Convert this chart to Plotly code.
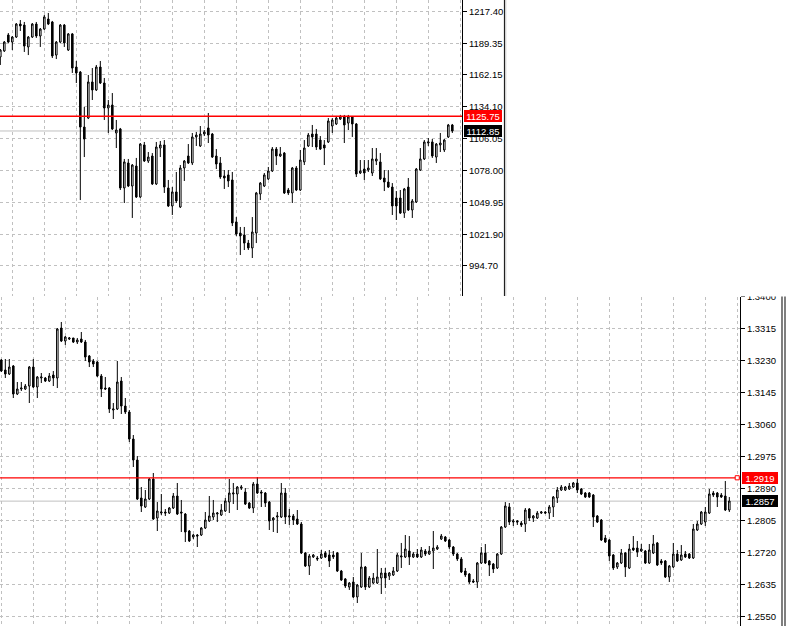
import plotly.graph_objects as go

# ---------------- upper chart (index) ----------------
top_open = [1177.7,1183.0,1197.0,1190.8,1195.2,1206.6,1205.7,1186.5,1195.2,1206.6,
            1196.1,1202.2,1211.0,1208.4,1179.4,1190.8,1205.7,1183.8,1197.9,1168.9,
            1164.5,1116.3,1124.2,1155.8,1148.8,1168.9,1154.9,1133.0,1135.6,1111.1,
            1114.6,1062.9,1084.8,1064.6,1082.1,1055.0,1100.6,1086.5,1090.9,1066.4,
            1097.9,1100.6,1062.9,1047.1,1059.4,1046.2,1080.4,1090.9,1084.8,1107.6,
            1099.7,1110.2,1115.5,1110.2,1090.9,1084.8,1073.4,1074.3,1069.9,1033.1,
            1023.4,1021.7,1014.6,1010.3,1023.4,1057.6,1064.6,1070.8,1077.8,1097.0,
            1090.9,1093.5,1061.1,1058.5,1080.4,1061.1,1085.7,1099.7,1110.2,1110.2,
            1104.9,1100.6,1103.2,1117.2,1119.0,1123.3,1125.1,1119.8,1125.1,1119.0,
            1076.0,1079.5,1078.6,1076.0,1086.5,1085.7,1071.6,1068.1,1063.7,1054.1,
            1054.1,1040.9,1063.7,1043.6,1050.6,1078.6,1088.3,1102.3,1103.2,1090.0,
            1100.6,1096.2,1107.6,1118.1]
top_high = [1184.7,1191.7,1198.7,1196.1,1207.5,1210.1,1208.4,1196.1,1207.5,1208.4,
            1203.1,1214.5,1216.3,1209.3,1191.7,1206.6,1206.6,1198.7,1198.7,1174.2,
            1165.4,1133.9,1161.9,1168.0,1170.7,1174.2,1159.3,1140.0,1146.1,1122.5,
            1115.5,1088.3,1088.3,1083.9,1089.2,1102.3,1103.2,1094.4,1093.5,1103.2,
            1104.1,1104.9,1069.9,1063.7,1076.9,1083.0,1087.4,1101.4,1111.1,1112.0,
            1117.2,1113.7,1128.6,1111.1,1097.0,1090.0,1078.6,1078.6,1076.9,1037.4,
            1028.7,1028.7,1017.3,1037.4,1059.4,1068.1,1076.0,1081.3,1098.8,1098.8,
            1098.8,1094.4,1062.9,1081.3,1082.1,1096.2,1104.9,1111.1,1118.1,1114.6,
            1108.4,1104.9,1124.2,1124.2,1126.0,1126.9,1126.9,1126.9,1126.0,1119.8,
            1087.4,1087.4,1087.4,1097.9,1097.9,1093.5,1078.6,1078.6,1067.2,1060.2,
            1061.1,1062.9,1071.6,1053.2,1080.4,1097.9,1104.9,1106.7,1105.8,1102.3,
            1111.1,1105.8,1119.0,1119.0]
top_low = [1170.7,1182.1,1190.0,1183.8,1194.4,1200.5,1182.1,1179.4,1194.4,1194.4,
           1186.5,1201.4,1205.7,1176.8,1175.9,1190.0,1186.5,1183.0,1163.7,1154.9,
           1052.3,1090.0,1123.3,1140.0,1147.9,1154.0,1122.5,1111.1,1113.7,1097.9,
           1061.1,1049.7,1063.7,1036.6,1054.1,1054.1,1085.7,1084.8,1065.5,1065.5,
           1090.0,1058.5,1046.2,1039.2,1049.7,1045.3,1069.0,1083.9,1083.0,1099.7,
           1098.8,1108.4,1102.3,1089.2,1079.5,1070.8,1062.0,1063.7,1029.5,1020.8,
           1004.1,1008.5,1008.5,1001.5,1014.6,1052.3,1063.7,1069.9,1076.9,1083.0,
           1090.0,1057.6,1056.7,1049.7,1060.2,1060.2,1083.0,1098.8,1098.8,1096.2,
           1096.2,1083.0,1102.3,1111.1,1118.1,1122.5,1102.3,1113.7,1107.6,1072.5,
           1075.1,1069.9,1076.9,1073.4,1083.0,1069.9,1060.2,1062.9,1039.2,1034.8,
           1040.1,1036.6,1042.7,1036.6,1049.7,1077.8,1087.4,1099.7,1089.2,1084.8,
           1094.4,1094.4,1106.7,1111.1]
top_close = [1183.8,1190.8,1190.8,1195.2,1206.6,1204.9,1187.3,1195.2,1206.6,1196.1,
             1202.2,1212.8,1206.6,1178.6,1190.8,1205.7,1190.0,1197.9,1168.0,1163.7,
             1116.3,1105.8,1155.8,1148.8,1168.9,1154.9,1133.0,1135.6,1114.6,1113.7,
             1062.9,1085.7,1064.6,1083.0,1055.0,1101.4,1086.5,1090.0,1066.4,1098.8,
             1100.6,1063.7,1047.1,1059.4,1051.5,1080.4,1086.5,1084.8,1107.6,1109.3,
             1110.2,1112.0,1109.3,1090.0,1083.9,1072.5,1071.6,1069.0,1032.2,1022.5,
             1020.8,1014.6,1010.3,1024.3,1058.5,1067.2,1074.3,1077.8,1097.0,1090.9,
             1092.7,1058.5,1058.5,1080.4,1061.1,1087.4,1097.9,1109.3,1107.6,1098.8,
             1097.0,1097.9,1121.6,1122.5,1124.2,1125.1,1118.1,1125.1,1119.0,1075.1,
             1077.8,1076.0,1080.4,1088.3,1088.3,1070.8,1068.1,1063.7,1047.1,1047.1,
             1040.9,1062.0,1043.6,1051.5,1079.5,1088.3,1103.2,1103.2,1090.9,1101.4,
             1102.3,1104.9,1118.1,1112.85]
top_ticks = [1217.40, 1189.35, 1162.15, 1134.10, 1106.05, 1078.00, 1049.95, 1021.90, 994.70]
top_level = 1125.75
top_bid = 1112.85

# ---------------- lower chart (currency pair) ----------------
bot_open = [1.32318,1.32053,1.31946,1.32159,1.31415,1.31548,1.31548,1.31627,1.32132,1.31601,
            1.31840,1.31840,1.31760,1.31920,1.31840,1.33168,1.32823,1.32876,1.32903,1.32796,
            1.32876,1.32796,1.32425,1.32292,1.32265,1.31893,1.31574,1.31574,1.30990,1.31017,
            1.31760,1.31096,1.30937,1.30220,1.29662,1.28653,1.28414,1.28626,1.29157,1.28121,
            1.28254,1.28281,1.28254,1.28387,1.28706,1.28281,1.28228,1.27776,1.27617,1.27670,
            1.27670,1.27856,1.28042,1.28148,1.28228,1.28201,1.28307,1.28546,1.28759,1.28759,
            1.28918,1.28812,1.28520,1.28387,1.29024,1.28812,1.28785,1.28546,1.28068,1.28148,
            1.28148,1.28785,1.28148,1.28175,1.28095,1.27962,1.27192,1.26847,1.27086,1.27059,
            1.27059,1.27192,1.27139,1.27139,1.27192,1.26714,1.26502,1.26289,1.26422,1.26024,
            1.26289,1.26820,1.26289,1.26395,1.26395,1.26528,1.26661,1.26581,1.26608,1.26714,
            1.27086,1.27086,1.27245,1.27086,1.27165,1.27086,1.27245,1.27165,1.27245,1.27298,
            1.27564,1.27617,1.27537,1.27351,1.27165,1.27033,1.26714,1.26634,1.26449,1.26422,
            1.26926,1.27192,1.26980,1.26900,1.26794,1.27165,1.27882,1.28414,1.28015,1.28042,
            1.27989,1.27962,1.28360,1.28121,1.28121,1.28254,1.28281,1.28254,1.28414,1.28653,
            1.28865,1.28865,1.28892,1.28945,1.29051,1.28892,1.28785,1.28785,1.28732,1.28175,
            1.28068,1.27590,1.27537,1.27139,1.26820,1.26926,1.27192,1.26794,1.27325,1.27325,
            1.27245,1.27245,1.26926,1.27192,1.27458,1.26980,1.26980,1.26555,1.26820,1.27165,
            1.27006,1.27165,1.27165,1.27059,1.27803,1.27962,1.28015,1.28254,1.28785,1.28785,
            1.28732,1.28706,1.28334]
bot_high = [1.32345,1.32345,1.32345,1.32185,1.31734,1.31734,1.31680,1.32159,1.32345,1.31893,
            1.31973,1.31867,1.31973,1.32026,1.33168,1.33328,1.32956,1.32929,1.32903,1.32903,
            1.33062,1.32850,1.32451,1.32345,1.32292,1.31946,1.31867,1.31601,1.31176,1.32292,
            1.31867,1.31309,1.30990,1.30326,1.29768,1.28945,1.28865,1.29184,1.29317,1.28546,
            1.28759,1.28360,1.28414,1.28785,1.29051,1.28600,1.28254,1.27803,1.27697,1.27697,
            1.27882,1.28281,1.28706,1.28600,1.28281,1.28493,1.28653,1.29157,1.29051,1.28971,
            1.28998,1.28918,1.28546,1.29078,1.29210,1.28865,1.28812,1.28573,1.28148,1.28281,
            1.29051,1.28918,1.28360,1.28228,1.28334,1.28015,1.27219,1.27165,1.27165,1.27112,
            1.27272,1.27245,1.27272,1.27245,1.27219,1.26741,1.26528,1.26422,1.26555,1.26369,
            1.27192,1.26847,1.26581,1.26661,1.27298,1.26794,1.26794,1.26687,1.26820,1.27192,
            1.27458,1.27670,1.27643,1.27219,1.27298,1.27351,1.27298,1.27378,1.27776,1.27404,
            1.27697,1.27643,1.27564,1.27378,1.27192,1.27086,1.26794,1.26661,1.26502,1.26953,
            1.27351,1.27431,1.27006,1.26926,1.27192,1.27909,1.28546,1.28520,1.28095,1.28068,
            1.28042,1.28387,1.28387,1.28201,1.28307,1.28307,1.28307,1.28467,1.28706,1.28945,
            1.28998,1.28971,1.29051,1.29078,1.29157,1.28918,1.28812,1.28812,1.28759,1.28201,
            1.28095,1.27670,1.27564,1.27165,1.26953,1.27298,1.27219,1.27431,1.27643,1.27511,
            1.27431,1.27272,1.27431,1.27670,1.27484,1.27033,1.27006,1.26873,1.27458,1.27272,
            1.27404,1.27245,1.27192,1.27962,1.28042,1.28307,1.28414,1.28892,1.28839,1.28812,
            1.28785,1.29104,1.28679]
bot_low = [1.31999,1.31840,1.31920,1.31309,1.31388,1.31495,1.31521,1.31176,1.31574,1.31309,
           1.31707,1.31734,1.31734,1.31627,1.31574,1.32796,1.32717,1.32850,1.32770,1.32743,
           1.32770,1.32292,1.32132,1.32132,1.31867,1.31335,1.31521,1.30911,1.30751,1.30990,
           1.30884,1.30884,1.30140,1.29476,1.28600,1.28281,1.28387,1.28600,1.28068,1.27776,
           1.28201,1.28175,1.28228,1.28360,1.28201,1.27750,1.27484,1.27484,1.27564,1.27351,
           1.27643,1.27829,1.28015,1.28068,1.28015,1.28175,1.28281,1.28254,1.28493,1.28334,
           1.28865,1.28467,1.28360,1.28254,1.28759,1.28414,1.28414,1.27803,1.27750,1.27723,
           1.28121,1.27962,1.27936,1.27936,1.27936,1.27165,1.26820,1.26608,1.27059,1.26980,
           1.27033,1.27059,1.26820,1.27033,1.26687,1.26449,1.26263,1.26210,1.25997,1.25864,
           1.26263,1.26210,1.26263,1.26369,1.26369,1.26103,1.26263,1.26475,1.26581,1.26687,
           1.26794,1.27059,1.26873,1.27059,1.27059,1.27059,1.27112,1.27139,1.26767,1.27272,
           1.27537,1.27484,1.27298,1.27112,1.26980,1.26661,1.26555,1.26369,1.26395,1.26263,
           1.26900,1.26900,1.26581,1.26661,1.26767,1.27139,1.27856,1.27936,1.27909,1.27936,
           1.27882,1.27750,1.28042,1.28015,1.28095,1.28228,1.28228,1.28095,1.28148,1.28520,
           1.28839,1.28839,1.28865,1.28918,1.28785,1.28732,1.28653,1.28653,1.27882,1.27989,
           1.27511,1.27458,1.26980,1.26741,1.26767,1.26900,1.26555,1.26767,1.27245,1.27086,
           1.27219,1.26900,1.26900,1.27165,1.26847,1.26873,1.26528,1.26422,1.26794,1.26953,
           1.26980,1.27059,1.27033,1.27033,1.27776,1.27936,1.27909,1.28228,1.28679,1.28414,
           1.28653,1.28307,1.28281]
bot_close = [1.32026,1.31946,1.32132,1.31415,1.31548,1.31574,1.31627,1.32132,1.31601,1.31867,
             1.31867,1.31760,1.31893,1.31840,1.33142,1.32823,1.32929,1.32903,1.32796,1.32850,
             1.32796,1.32398,1.32265,1.32212,1.31893,1.31548,1.31548,1.31017,1.31017,1.31734,
             1.31096,1.30937,1.30220,1.29662,1.28626,1.28440,1.28626,1.29157,1.28095,1.28307,
             1.28281,1.28254,1.28387,1.28706,1.28228,1.28254,1.27750,1.27511,1.27670,1.27643,
             1.27856,1.28068,1.28175,1.28254,1.28254,1.28334,1.28573,1.28785,1.28785,1.28945,
             1.28945,1.28493,1.28387,1.29024,1.28785,1.28785,1.28520,1.28042,1.28121,1.28175,
             1.28785,1.28148,1.28175,1.28068,1.27962,1.27192,1.26847,1.27112,1.27139,1.27033,
             1.27165,1.27086,1.26980,1.27086,1.26714,1.26475,1.26316,1.26395,1.26024,1.26342,
             1.26820,1.26289,1.26528,1.26528,1.26555,1.26661,1.26528,1.26661,1.26714,1.27139,
             1.27112,1.27298,1.27086,1.27165,1.27086,1.27272,1.27165,1.27245,1.27325,1.27351,
             1.27643,1.27511,1.27351,1.27165,1.27033,1.26687,1.26608,1.26422,1.26422,1.26926,
             1.27192,1.26926,1.26873,1.26767,1.27165,1.27882,1.28440,1.28015,1.28042,1.28015,
             1.27936,1.28334,1.28121,1.28175,1.28254,1.28281,1.28254,1.28414,1.28679,1.28865,
             1.28945,1.28945,1.28971,1.29051,1.28865,1.28759,1.28679,1.28679,1.28148,1.28015,
             1.27537,1.27484,1.27112,1.26794,1.26926,1.27192,1.26820,1.27298,1.27272,1.27219,
             1.27298,1.26926,1.27272,1.27431,1.26873,1.26926,1.26555,1.26847,1.27165,1.26980,
             1.27139,1.27086,1.27059,1.27829,1.27962,1.28281,1.28281,1.28759,1.28732,1.28679,
             1.28679,1.28334,1.28573]
bot_ticks = [1.3400, 1.3315, 1.3230, 1.3145, 1.3060, 1.2975, 1.2890, 1.2805, 1.2720, 1.2635, 1.2550]
bot_level = 1.2919
bot_bid = 1.2857

W, H = 786, 626
FONT = "Liberation Sans"
GRID = "#c0c0c0"

top_x = list(range(len(top_open)))
bot_x = list(range(len(bot_open)))

fig = go.Figure()

candle_style = dict(
    increasing=dict(fillcolor="white", line=dict(color="black", width=1)),
    decreasing=dict(fillcolor="black", line=dict(color="black", width=1)),
    whiskerwidth=0, showlegend=False, hoverinfo="skip",
)
fig.add_trace(go.Candlestick(x=top_x, open=top_open, high=top_high, low=top_low,
                             close=top_close, xaxis="x", yaxis="y", **candle_style))
fig.add_trace(go.Candlestick(x=bot_x, open=bot_open, high=bot_high, low=bot_low,
                             close=bot_close, xaxis="x2", yaxis="y2", **candle_style))

top_right = 462 / W
bot_right = 740 / W
top_bottom = 1 - 296 / H
bot_top = 1 - 296.5 / H

axis_common = dict(showgrid=True, gridcolor=GRID, griddash="3px,3px", gridwidth=1,
                   zeroline=False, automargin=False)

fig.update_layout(
    template="none",
    width=W, height=H, autosize=False,
    margin=dict(l=0, r=0, t=0, b=0, pad=0),
    paper_bgcolor="white", plot_bgcolor="white",
    showlegend=False, boxgap=0.45,
    xaxis=dict(domain=[0, top_right], range=[-0.08, 115.42], anchor="y",
               tickvals=list(range(3, 116, 8)), showticklabels=False, ticks="",
               rangeslider=dict(visible=False), showline=False, **axis_common),
    yaxis=dict(domain=[top_bottom, 1], range=[968.19, 1227.66], anchor="x", side="right",
               tickvals=top_ticks, ticktext=[f"{v:.2f}" for v in top_ticks],
               showline=True, linecolor="black", linewidth=1,
               ticks="outside", ticklen=4, tickcolor="black", tickwidth=1,
               tickfont=dict(family=FONT, size=9.5, color="black"), **axis_common),
    xaxis2=dict(domain=[0, bot_right], range=[-0.33, 184.67], anchor="y2",
                tickvals=list(range(0, 185, 8)), showticklabels=False, ticks="",
                rangeslider=dict(visible=False), showline=False, **axis_common),
    yaxis2=dict(domain=[0, bot_top], range=[1.25253, 1.34005], anchor="x2", side="right",
                tickvals=bot_ticks, ticktext=[f"{v:.4f}" for v in bot_ticks],
                showline=True, linecolor="black", linewidth=1,
                ticks="outside", ticklen=4, tickcolor="black", tickwidth=1,
                tickfont=dict(family=FONT, size=9.5, color="black"), **axis_common),
)

shapes = []
# bid lines (grey) and level lines (red)
shapes.append(dict(type="line", xref="x domain", yref="y", x0=0, x1=1, y0=top_bid, y1=top_bid,
                   line=dict(color=GRID, width=1), layer="below"))
shapes.append(dict(type="line", xref="x domain", yref="y", x0=0, x1=1, y0=top_level, y1=top_level,
                   line=dict(color="#ff0000", width=1.3), layer="above"))
shapes.append(dict(type="line", xref="x2 domain", yref="y2", x0=0, x1=1, y0=bot_bid, y1=bot_bid,
                   line=dict(color=GRID, width=1), layer="below"))
shapes.append(dict(type="line", xref="x2 domain", yref="y2", x0=0, x1=1, y0=bot_level, y1=bot_level,
                   line=dict(color="#ff0000", width=1.3), layer="above"))
# small red square at the end of the lower level line
shapes.append(dict(type="rect", xref="x2 domain", yref="y2", x0=0.9935, x1=0.999,
                   y0=bot_level - 0.00055, y1=bot_level + 0.00055,
                   line=dict(color="#ff0000", width=1), fillcolor="white", layer="above"))
# white cover clipping the top-most lower label
shapes.append(dict(type="rect", xref="paper", yref="paper", x0=741 / W, x1=781 / W,
                   y0=bot_top, y1=1 - 286 / H, line=dict(width=0), fillcolor="white",
                   layer="above"))
# window frames
shapes.append(dict(type="line", xref="paper", yref="paper", x0=504.5 / W, x1=504.5 / W,
                   y0=top_bottom, y1=1, line=dict(color="#202020", width=1.2)))
shapes.append(dict(type="line", xref="paper", yref="paper", x0=505.8 / W, x1=505.8 / W,
                   y0=top_bottom, y1=1, line=dict(color="#c8c8c8", width=1)))
shapes.append(dict(type="line", xref="paper", yref="paper", x0=782 / W, x1=782 / W,
                   y0=0, y1=bot_top, line=dict(color="#606060", width=1.6)))
shapes.append(dict(type="line", xref="paper", yref="paper", x0=785 / W, x1=785 / W,
                   y0=0, y1=bot_top, line=dict(color="#606060", width=1.6)))
fig.update_layout(shapes=shapes)

def price_box(xref, yref, y, text, bg, width):
    return dict(xref=xref, yref=yref, x=1, y=y, xanchor="left", yanchor="middle",
                xshift=2, text=text, showarrow=False, bgcolor=bg, borderpad=1,
                borderwidth=0, width=width, height=10, align="center",
                font=dict(family=FONT, size=9.5, color="white"))

fig.update_layout(annotations=[
    price_box("x domain", "y", top_level, f"{top_level:.2f}", "#ff0000", 36),
    price_box("x domain", "y", top_bid, f"{top_bid:.2f}", "#000000", 36),
    price_box("x2 domain", "y2", bot_level, f"{bot_level:.4f}", "#ff0000", 34),
    price_box("x2 domain", "y2", bot_bid, f"{bot_bid:.4f}", "#000000", 34),
])

fig.write_html(
    "out.html",
    config={"displayModeBar": False, "staticPlot": True},
    post_script="document.body.style.margin='0';document.body.style.padding='0';"
                "document.body.style.overflow='hidden';",
)
